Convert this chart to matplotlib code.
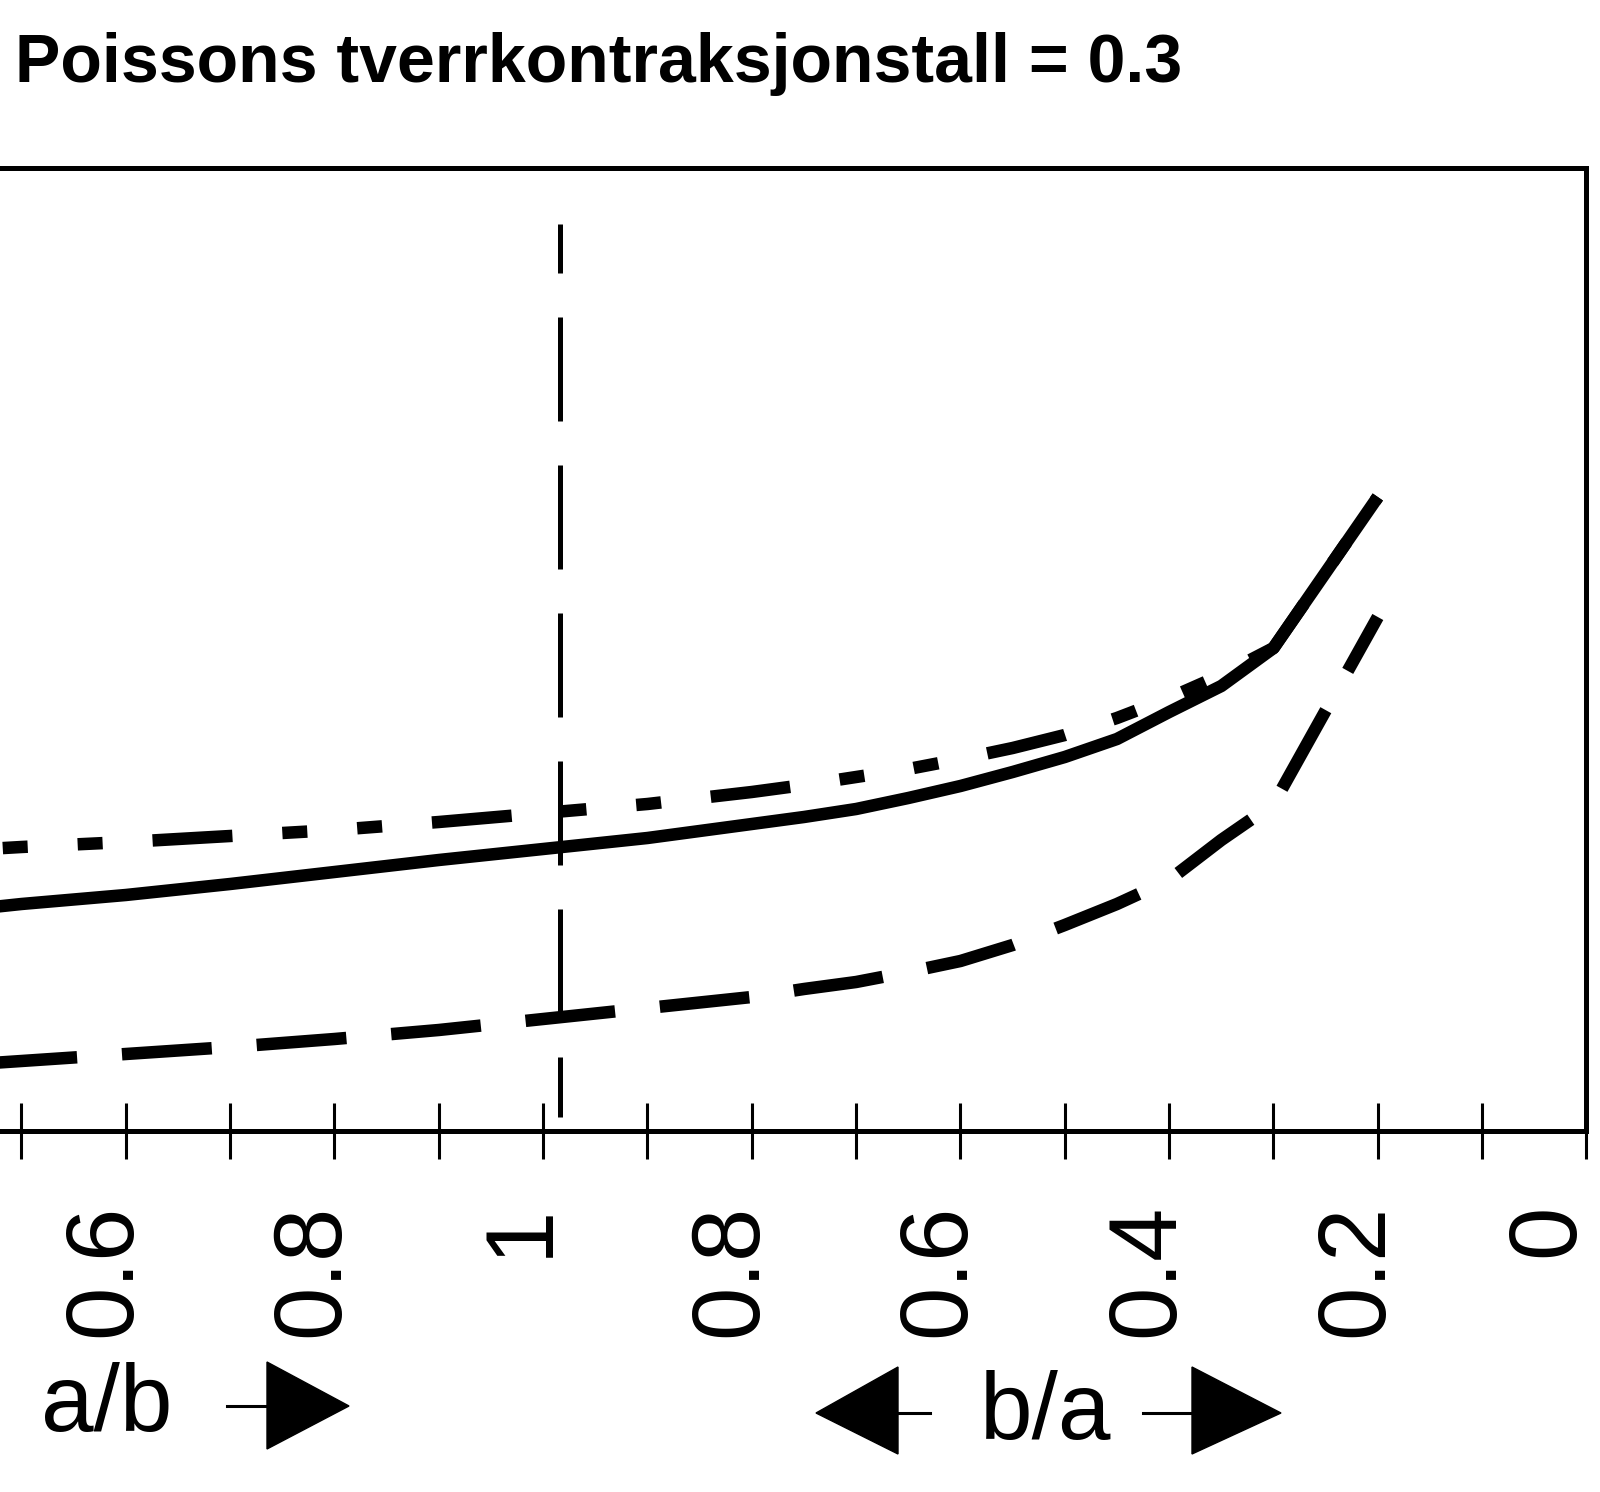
import matplotlib
matplotlib.use("Agg")
import matplotlib.pyplot as plt
from matplotlib.patches import Polygon
from matplotlib.transforms import ScaledTranslation

FONT = ["Liberation Sans", "DejaVu Sans"]
plt.rcParams["font.family"] = FONT

# position along the axis: up to 1 it is a/b, past 1 it is 2 - b/a
pos = [0.4, 0.5, 0.6, 0.7, 0.8, 0.9, 1.0, 1.1, 1.2, 1.25, 1.3, 1.35, 1.4,
       1.45, 1.5, 1.55, 1.6, 1.65, 1.7, 1.8]

# curve values (y scale of the original is cropped away, arbitrary units)
solid = [2.16, 2.27, 2.36, 2.47, 2.59, 2.71, 2.82, 2.93, 3.07, 3.14, 3.22, 3.33,
         3.45, 3.59, 3.74, 3.92, 4.19, 4.45, 4.83, 6.34]
dashdot = [2.78, 2.84, 2.89, 2.95, 3.01, 3.09, 3.18, 3.27, 3.39, 3.46, 3.54, 3.62,
           3.72, 3.83, 3.96, 4.13, 4.33, 4.56, 4.83, 6.34]
dashed = [0.63, 0.70, 0.77, 0.84, 0.92, 1.01, 1.12, 1.23, 1.34, 1.42, 1.49, 1.59,
          1.70, 1.86, 2.06, 2.27, 2.51, 2.91, 3.27, 5.14]

# vertical marker near a/b = b/a = 1 (drawn from top to bottom)
vline_x = 1.016
vline_y = [9.07, 0.14]

major_ticks = [0.6, 0.8, 1.0, 1.2, 1.4, 1.6, 1.8, 2.0]
major_labels = ["0.6", "0.8", "1", "0.8", "0.6", "0.4", "0.2", "0"]
minor_ticks = [0.5, 0.7, 0.9, 1.1, 1.3, 1.5, 1.7, 1.9]

TITLE = "Poissons tverrkontraksjonstall = 0.3"

W, H, DPI = 1600, 1492, 100
fig = plt.figure(figsize=(W / DPI, H / DPI), dpi=DPI)
ax = fig.add_axes([0.0, 0.24196, 0.99156, 0.64544])

LW = 9
ax.plot(pos, dashed, color="black", lw=LW, linestyle=(0.94, (7.2, 3.6)),
        dash_capstyle="butt")
ax.plot(pos, dashdot, color="black", lw=LW,
        linestyle=(10.1, (6.4, 4, 2, 4, 2, 4)), dash_capstyle="butt")
ax.plot(pos, solid, color="black", lw=LW, solid_capstyle="butt",
        solid_joinstyle="round")
ax.plot([vline_x, vline_x], vline_y, color="black", lw=3.6,
        linestyle=(11, (20.8, 8.8)), dash_capstyle="butt")

ax.set_xlim(0.4794, 2.0)
ax.set_ylim(0, 9.63)

for side in ["top", "right", "bottom"]:
    ax.spines[side].set_linewidth(3.6)
ax.spines["left"].set_visible(False)
ax.set_yticks([])

ax.set_xticks(major_ticks)
ax.set_xticklabels(major_labels)
ax.set_xticks(minor_ticks, minor=True)
ax.tick_params(axis="x", which="both", direction="inout", length=40, width=2.2)
ax.tick_params(axis="x", which="major", pad=32.4, labelsize=69, labelrotation=90,
               labelfontfamily="Liberation Sans")

# labels sit a little left of their ticks; the last one is kept inside the edge
labels = ax.get_xticklabels()
for i, lab in enumerate(labels):
    dx = -0.21 if i < len(labels) - 1 else -0.38
    lab.set_transform(lab.get_transform() + ScaledTranslation(dx, 0, fig.dpi_scale_trans))

fig.text(15 / W, 1 - 82 / H, TITLE, fontsize=49, fontweight="bold",
         ha="left", va="baseline")

fig.text(41 / W, 1 - 1431 / H, "a/b", fontsize=68, ha="left", va="baseline")
fig.text(980 / W, 1 - 1439 / H, "b/a", fontsize=68, ha="left", va="baseline")


def px(points):
    return [(x / W, 1 - y / H) for x, y in points]


def arrow_line(x0, x1, y):
    fig.add_artist(plt.Line2D([x0 / W, x1 / W], [1 - y / H, 1 - y / H],
                              color="black", lw=2.2))


# a/b arrow to the right
arrow_line(227, 268, 1406)
fig.add_artist(Polygon(px([(267, 1362), (267, 1449), (349, 1406)]), closed=True,
                       color="black"))
# b/a arrows both ways
arrow_line(897, 930, 1413)
fig.add_artist(Polygon(px([(898, 1367), (898, 1454), (816, 1413)]), closed=True,
                       color="black"))
arrow_line(1143, 1193, 1413)
fig.add_artist(Polygon(px([(1192, 1367), (1192, 1454), (1281, 1413)]), closed=True,
                       color="black"))

fig.savefig("out.png", dpi=DPI)
